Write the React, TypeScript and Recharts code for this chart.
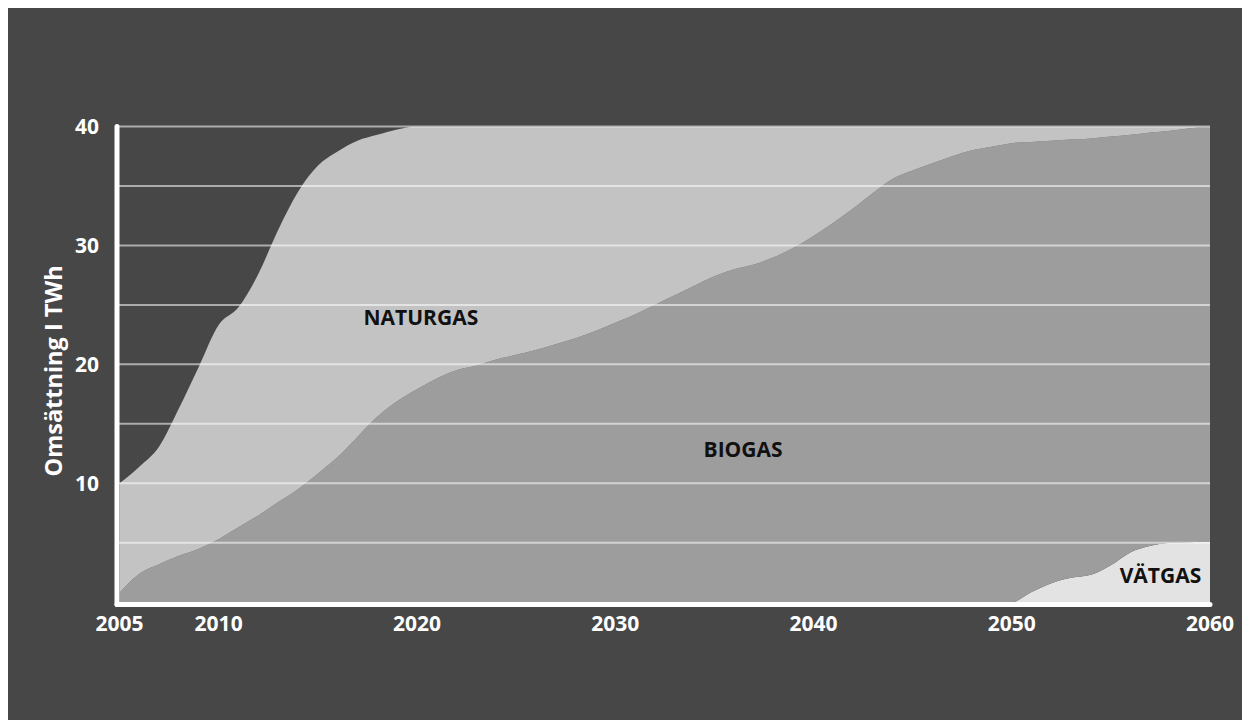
import React from 'react';
import { AreaChart, Area, XAxis, YAxis, ReferenceLine, ReferenceDot, Label } from 'recharts';

const years = [
  2005, 2006, 2007, 2008, 2009, 2010, 2011, 2012, 2013, 2014,
  2015, 2016, 2017, 2018, 2019, 2020, 2021, 2022, 2023, 2024,
  2025, 2026, 2027, 2028, 2029, 2030, 2031, 2032, 2033, 2034,
  2035, 2036, 2037, 2038, 2039, 2040, 2041, 2042, 2043, 2044,
  2045, 2046, 2047, 2048, 2049, 2050, 2051, 2052, 2053, 2054,
  2055, 2056, 2057, 2058, 2059, 2060,
];

const vatgas = [
  0, 0, 0, 0, 0, 0, 0, 0, 0, 0,
  0, 0, 0, 0, 0, 0, 0, 0, 0, 0,
  0, 0, 0, 0, 0, 0, 0, 0, 0, 0,
  0, 0, 0, 0, 0, 0, 0, 0, 0, 0,
  0, 0, 0, 0, 0, 0, 0.85, 1.6, 2.05, 2.3,
  3.1, 4.2, 4.75, 5.0, 5.05, 5.1,
];

const biogas = [
  0.8, 2.4, 3.2, 3.9, 4.5, 5.3, 6.3, 7.3, 8.4, 9.5,
  10.8, 12.2, 13.9, 15.6, 16.9, 17.9, 18.8, 19.5, 19.9, 20.4,
  20.8, 21.2, 21.7, 22.2, 22.8, 23.5, 24.2, 25.0, 25.8, 26.6,
  27.4, 28.0, 28.4, 29.0, 29.8, 30.8, 31.9, 33.1, 34.4, 35.6,
  36.3, 36.9, 37.5, 38.0, 38.3, 38.6, 37.85, 37.2, 36.85, 36.7,
  36.05, 35.1, 34.75, 34.65, 34.8, 34.9,
];

const naturgas = [
  9.2, 9.0, 9.9, 12.4, 15.3, 18.0, 18.5, 20.3, 22.9, 25.0,
  25.9, 25.7, 24.9, 23.7, 22.85, 22.1, 21.2, 20.5, 20.1, 19.6,
  19.2, 18.8, 18.3, 17.8, 17.2, 16.5, 15.8, 15.0, 14.2, 13.4,
  12.6, 12.0, 11.6, 11.0, 10.2, 9.2, 8.1, 6.9, 5.6, 4.4,
  3.7, 3.1, 2.5, 2.0, 1.7, 1.4, 1.3, 1.2, 1.1, 1.0,
  0.85, 0.7, 0.5, 0.35, 0.15, 0,
];

const xTicks = [2005, 2010, 2020, 2030, 2040, 2050, 2060];
const yTicks = [10, 20, 30, 40];
const gridValues = [5, 10, 15, 20, 25, 30, 35, 40];

const seriesNames = ['NATURGAS', 'BIOGAS', 'VÄTGAS'];
const yAxisTitle = 'Omsättning I TWh';

// label anchor points in data coordinates
const labelAnchors = [
  { year: 2020.2, value: 23.9 },
  { year: 2036.45, value: 12.8 },
  { year: 2057.5, value: 2.2 },
];

const data = years.map((y, i) => ({
  year: y,
  vatgas: vatgas[i],
  biogas: biogas[i],
  naturgas: naturgas[i],
}));

const FONT = "'Open Sans', 'DejaVu Sans', sans-serif";

export default function App() {
  return (
    <div style={{ width: 1242, height: 712, background: '#474747' }}>
      <AreaChart
        width={1242}
        height={712}
        data={data}
        margin={{ top: 118.5, right: 40, bottom: 85.5, left: 29 }}
      >
        <XAxis
          dataKey="year"
          type="number"
          domain={[2005, 2060]}
          ticks={xTicks}
          interval={0}
          allowDataOverflow
          padding={{ left: 2.5, right: 0 }}
          height={30}
          tickLine={false}
          tickSize={0}
          tickMargin={12}
          axisLine={{ stroke: '#ffffff', strokeWidth: 5, strokeLinecap: 'round' }}
          tick={{ fill: '#ffffff', fontSize: 21, fontWeight: 700, fontFamily: FONT }}
        />
        <YAxis
          type="number"
          domain={[0, 40]}
          ticks={yTicks}
          interval={0}
          allowDataOverflow
          padding={{ top: 0, bottom: 2.3 }}
          width={80}
          tickLine={false}
          tickSize={0}
          tickMargin={18}
          axisLine={{ stroke: '#ffffff', strokeWidth: 5, strokeLinecap: 'round' }}
          tick={{ fill: '#ffffff', fontSize: 21, fontWeight: 700, fontFamily: FONT }}
        />
        <Area
          type="monotone"
          dataKey="vatgas"
          name={seriesNames[2]}
          stackId="a"
          stroke="none"
          fill="#e3e3e3"
          fillOpacity={1}
          isAnimationActive={false}
          dot={false}
          activeDot={false}
        />
        <Area
          type="monotone"
          dataKey="biogas"
          name={seriesNames[1]}
          stackId="a"
          stroke="none"
          fill="#9d9d9d"
          fillOpacity={1}
          isAnimationActive={false}
          dot={false}
          activeDot={false}
        />
        <Area
          type="monotone"
          dataKey="naturgas"
          name={seriesNames[0]}
          stackId="a"
          stroke="none"
          fill="#c3c3c3"
          fillOpacity={1}
          isAnimationActive={false}
          dot={false}
          activeDot={false}
        />
        {gridValues.map((v) => (
          <ReferenceLine
            key={v}
            y={v}
            stroke="#ffffff"
            strokeOpacity={0.55}
            strokeWidth={2}
          />
        ))}
        {labelAnchors.map((a, i) => (
          <ReferenceDot
            key={seriesNames[i]}
            x={a.year}
            y={a.value}
            r={0}
            fill="none"
            stroke="none"
            ifOverflow="visible"
          >
            <Label
              value={seriesNames[i]}
              position="center"
              fill="#111111"
              fontSize={21}
              fontWeight={700}
              fontFamily={FONT}
            />
          </ReferenceDot>
        ))}
        <text
          x={54}
          y={363}
          transform="rotate(-90, 54, 363)"
          textAnchor="middle"
          fill="#ffffff"
          fontSize={23.5}
          fontWeight={700}
          fontFamily={FONT}
        >
          {yAxisTitle}
        </text>
      </AreaChart>
    </div>
  );
}
